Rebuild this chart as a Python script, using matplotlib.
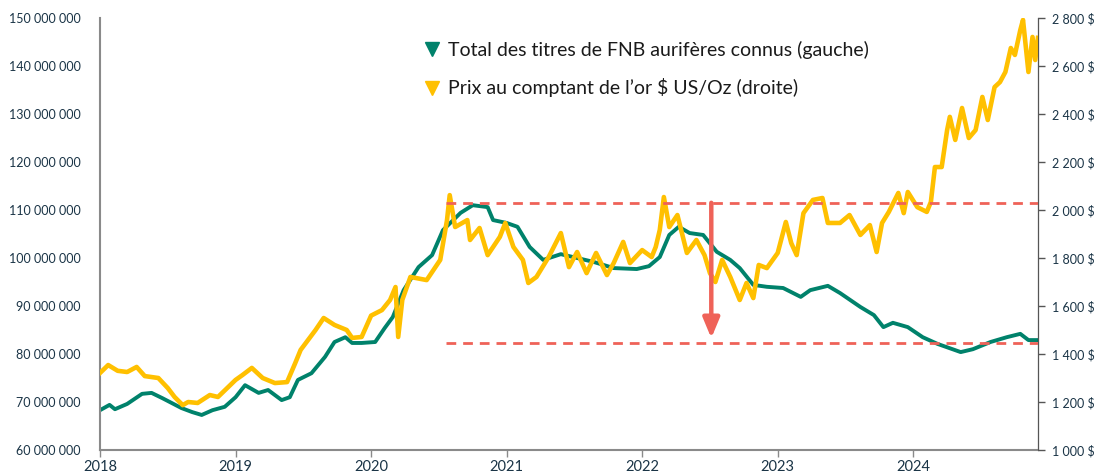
import matplotlib
matplotlib.use("Agg")
import matplotlib.pyplot as plt
from matplotlib.lines import Line2D
from matplotlib.ticker import FuncFormatter, MultipleLocator

plt.rcParams['font.family'] = ['Lato', 'DejaVu Sans']

# Total des titres de FNB auriferes (millions, axe gauche)
etf_t = [2018.00, 2018.07, 2018.11, 2018.20, 2018.31, 2018.38, 2018.46, 2018.60, 2018.68,
         2018.75, 2018.83, 2018.92, 2019.00, 2019.07, 2019.17, 2019.24, 2019.34, 2019.40,
         2019.46, 2019.56, 2019.66, 2019.73, 2019.81, 2019.86, 2019.93, 2020.03, 2020.10,
         2020.16, 2020.24, 2020.35, 2020.45, 2020.53, 2020.66, 2020.75, 2020.86, 2020.90,
         2021.00, 2021.08, 2021.17, 2021.27, 2021.40, 2021.52, 2021.64, 2021.79, 2021.96,
         2022.05, 2022.13, 2022.20, 2022.27, 2022.35, 2022.45, 2022.55, 2022.65, 2022.72,
         2022.82, 2022.92, 2023.04, 2023.17, 2023.24, 2023.37, 2023.46, 2023.61, 2023.71,
         2023.78, 2023.85, 2023.96, 2024.07, 2024.18, 2024.35, 2024.44, 2024.57, 2024.69,
         2024.79, 2024.85, 2024.92]
etf_m = [68.3, 69.4, 68.5, 69.6, 71.7, 71.9, 70.8, 68.75, 67.9,
         67.3, 68.3, 69.0, 71.0, 73.5, 71.9, 72.5, 70.4, 71.0,
         74.6, 76.0, 79.4, 82.5, 83.5, 82.3, 82.3, 82.5, 85.4,
         87.7, 93.3, 98.1, 100.6, 105.8, 109.4, 111.0, 110.6, 107.9,
         107.3, 106.5, 102.3, 99.6, 100.8, 100.0, 99.2, 97.9, 97.7,
         98.3, 100.2, 104.8, 106.5, 105.2, 104.8, 101.3, 99.6, 97.9,
         94.4, 94.0, 93.75, 91.9, 93.3, 94.2, 92.7, 89.8, 88.1,
         85.6, 86.5, 85.6, 83.5, 82.1, 80.4, 81.0, 82.5, 83.5,
         84.2, 82.9, 82.9]

# Prix au comptant de l'or ($ US/oz, axe droit)
gold_t = [2018.00, 2018.06, 2018.13, 2018.20, 2018.27, 2018.33, 2018.43, 2018.50, 2018.55,
          2018.61, 2018.65, 2018.72, 2018.81, 2018.87, 2019.00, 2019.05, 2019.12, 2019.20,
          2019.29, 2019.38, 2019.44, 2019.48, 2019.59, 2019.65, 2019.73, 2019.82, 2019.86,
          2019.93, 2020.00, 2020.08, 2020.14, 2020.18, 2020.20, 2020.23, 2020.29, 2020.41,
          2020.51, 2020.56, 2020.58, 2020.62, 2020.71, 2020.73, 2020.80, 2020.86, 2020.95,
          2020.99, 2021.05, 2021.12, 2021.16, 2021.22, 2021.31, 2021.40, 2021.46, 2021.52,
          2021.59, 2021.66, 2021.74, 2021.79, 2021.86, 2021.91, 2022.00, 2022.07, 2022.10,
          2022.13, 2022.16, 2022.20, 2022.26, 2022.33, 2022.40, 2022.46, 2022.50, 2022.54,
          2022.59, 2022.65, 2022.72, 2022.77, 2022.82, 2022.86, 2022.92, 2023.00, 2023.06,
          2023.10, 2023.14, 2023.19, 2023.26, 2023.33, 2023.37, 2023.46, 2023.53, 2023.61,
          2023.68, 2023.73, 2023.77, 2023.82, 2023.89, 2023.93, 2023.96, 2024.03, 2024.10,
          2024.13, 2024.16, 2024.21, 2024.25, 2024.27, 2024.31, 2024.36, 2024.41, 2024.46,
          2024.51, 2024.55, 2024.60, 2024.64, 2024.68, 2024.72, 2024.75, 2024.79, 2024.81,
          2024.85, 2024.88, 2024.90, 2024.92]
gold_p = [1321, 1354, 1330, 1325, 1346, 1308, 1300, 1258, 1221,
          1187, 1200, 1196, 1229, 1221, 1292, 1312, 1342, 1300,
          1279, 1283, 1362, 1417, 1500, 1550, 1521, 1500, 1467,
          1471, 1560, 1583, 1625, 1679, 1471, 1625, 1721, 1708,
          1792, 1958, 2062, 1929, 1958, 1875, 1925, 1812, 1888,
          1946, 1846, 1792, 1696, 1721, 1804, 1904, 1762, 1825,
          1737, 1821, 1729, 1779, 1867, 1779, 1833, 1804, 1846,
          1917, 2054, 1929, 1979, 1821, 1875, 1812, 1737, 1700,
          1792, 1721, 1625, 1696, 1633, 1771, 1758, 1821, 1950,
          1862, 1812, 1987, 2042, 2050, 1946, 1946, 1979, 1896,
          1937, 1825, 1946, 1992, 2071, 1987, 2075, 2012, 1992,
          2033, 2179, 2179, 2333, 2388, 2292, 2425, 2300, 2333,
          2471, 2375, 2512, 2533, 2575, 2675, 2646, 2750, 2792,
          2575, 2721, 2625, 2717]

years = [2018, 2019, 2020, 2021, 2022, 2023, 2024]
labels = ["Total des titres de FNB aurifères connus (gauche)",
          "Prix au comptant de l’or $ US/Oz (droite)"]

# niveaux des lignes pointillees et de la fleche (millions)
level_high = 111.5
level_low = 82.3
arrow_end = 83.3
level_start = 2020.55
arrow_x = 2022.51

GREEN = '#00826B'
GOLD = '#FFC000'
RED = '#EF6258'
TXT = '#1A3446'

fig = plt.figure(figsize=(11.03, 4.76), dpi=100)
ax = fig.add_axes([0.0907, 0.0546, 0.8503, 0.9076])
ax2 = ax.twinx()

ax.plot(etf_t, etf_m, color=GREEN, lw=2.8, solid_joinstyle='round')
ax2.plot(gold_t, gold_p, color=GOLD, lw=3.3, solid_joinstyle='round')

ax.set_xlim(2018, 2024.92)
ax.set_ylim(60, 150)
ax2.set_ylim(1000, 2800)

# seuils et fleche, dessines par-dessus les courbes
for lvl in (level_high, level_low):
    ax2.plot([level_start, 2024.92], [lvl, lvl], transform=ax.transData,
             color=RED, lw=2, ls=(0, (3.5, 2.5)), zorder=5)
ax2.annotate('', xy=(arrow_x, arrow_end), xytext=(arrow_x, level_high),
             xycoords=ax.transData, textcoords=ax.transData,
             arrowprops=dict(arrowstyle='-|>,head_width=0.5,head_length=1.2',
                             color=RED, lw=3.2, shrinkA=0, shrinkB=0), zorder=6)

ax.yaxis.set_major_locator(MultipleLocator(10))
ax.yaxis.set_major_formatter(FuncFormatter(
    lambda v, p: f"{v * 1e6:,.0f}".replace(',', ' ')))
ax2.yaxis.set_major_locator(MultipleLocator(200))
ax2.yaxis.set_major_formatter(FuncFormatter(
    lambda v, p: f"{v:,.0f} $".replace(',', ' ')))
ax.set_xticks(years)
ax.set_xticklabels([str(y) for y in years])

ax.spines['top'].set_visible(False)
ax2.spines['top'].set_visible(False)
ax.spines['left'].set_color('#8A8A8A')
ax.spines['bottom'].set_color('#8A8A8A')
ax.spines['left'].set_linewidth(1.5)
ax.spines['bottom'].set_linewidth(1.5)
ax2.spines['right'].set_color('#555555')
ax2.spines['left'].set_visible(False)
ax2.spines['bottom'].set_visible(False)

ax.tick_params(axis='y', length=0, pad=14, labelsize=9, labelcolor=TXT)
ax.tick_params(axis='x', length=5, width=1, color='#8A8A8A', labelsize=10.5,
               labelcolor=TXT, pad=2)
ax2.tick_params(axis='y', length=5, width=1, color='#555555', labelsize=9,
                labelcolor=TXT, pad=5)

handles = [Line2D([], [], ls='none', marker='v', ms=10, color=GREEN),
           Line2D([], [], ls='none', marker='v', ms=10, color=GOLD)]
leg = ax2.legend(handles, labels, loc='upper left', bbox_to_anchor=(0.337, 0.965),
                 frameon=False, fontsize=14, handlelength=0.8, handletextpad=0.45,
                 labelspacing=1.0, borderaxespad=0)
for t in leg.get_texts():
    t.set_color('#1a1a1a')

fig.savefig('out.png', dpi=100)
